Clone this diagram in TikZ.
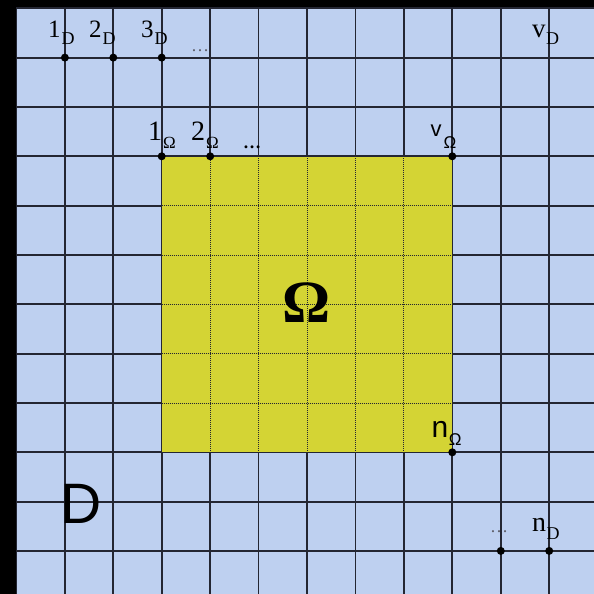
\documentclass[tikz,border=0pt]{standalone}
\usepackage{fontspec}
\setmainfont{Liberation Serif}
\newfontfamily\sansf{Liberation Sans}
\definecolor{bgblue}{RGB}{190,208,240}
\definecolor{omyellow}{RGB}{212,212,52}
\definecolor{gridc}{RGB}{36,38,50}
\definecolor{dotsgray}{RGB}{95,95,105}
\newcommand\fs[1]{\fontsize{#1}{#1}\selectfont}
\begin{document}
\begin{tikzpicture}[x=1pt,y=-1pt,
  gridline/.style={draw=gridc,line width=1.8pt},
  innerline/.style={draw=gridc,line width=0.8pt,dash pattern=on 1pt off 1pt},
  pt/.style={circle,fill=black,inner sep=0pt,minimum size=8pt},
  lab/.style={anchor=base west,inner sep=0pt,text=black},
  ell/.style={anchor=base west,inner sep=0pt,text=dotsgray}]
\useasboundingbox (0,0) rectangle (594,594);
% background
\fill[bgblue] (0,0) rectangle (594,594);
% grid
\foreach \i in {0,...,12} {
  \draw[gridline] ({16.4+48.43*\i},0) -- ({16.4+48.43*\i},594);
}
\foreach \j in {0,...,12} {
  \draw[gridline] (0,{8.3+49.33*\j}) -- (594,{8.3+49.33*\j});
}
% Omega region
\fill[omyellow] (161.7,156.3) rectangle (452.3,452.3);
\foreach \i in {4,...,8} {
  \draw[innerline] ({16.4+48.43*\i},156.3) -- ({16.4+48.43*\i},452.3);
}
\foreach \j in {4,...,8} {
  \draw[innerline] (161.7,{8.3+49.33*\j}) -- (452.3,{8.3+49.33*\j});
}
\draw[innerline] (161.7,156.3) rectangle (452.3,452.3);
\draw[gridc,line width=1.2pt] (161.7,156.3) rectangle (452.3,452.3);
% black frame
\fill[black] (0,0) rectangle (594,7.5);
\fill[black] (0,0) rectangle (16.4,594);
% points
\node[pt] (p1D) at (64.9,57.6) {};
\node[pt] (p2D) at (113.3,57.6) {};
\node[pt] (p3D) at (161.7,57.6) {};
\node[pt] (p1O) at (161.7,156.3) {};
\node[pt] (p2O) at (210.2,156.3) {};
\node[pt] (pvO) at (452.3,156.3) {};
\node[pt] (pnO) at (452.3,452.3) {};
\node[pt] (pkD) at (500.8,550.9) {};
\node[pt] (pnD) at (549.2,550.9) {};
% labels
\node[lab] (l1D) at (48,37.3) {\fs{25}1\kern1pt\lower7.7pt\hbox{\fs{18}D}};
\node[lab] (l2D) at (89,37.3) {\fs{25}2\kern1pt\lower7.7pt\hbox{\fs{18}D}};
\node[lab] (l3D) at (141,37.3) {\fs{25}3\kern1pt\lower7.7pt\hbox{\fs{18}D}};
\node[ell] (e1) at (191,52) {\fs{18}\ldots};
\node[lab] (l1O) at (148,140.7) {\fs{28}1\kern1pt\lower7.6pt\hbox{\fs{17}Ω}};
\node[lab] (l2O) at (191,140.7) {\fs{28}2\kern1pt\lower7.6pt\hbox{\fs{17}Ω}};
\node[lab] (e2) at (243,148) {\fs{18}\textbf{\ldots}};
\node[lab] (lvO) at (430.5,136.7) {\sansf\fs{22}v\kern2pt\lower11.6pt\hbox{\fs{17}Ω}};
\node[lab] (lvD) at (532,37.3) {\fs{27}v\kern0.5pt\lower7.7pt\hbox{\fs{18}D}};
\node[lab] (lnO) at (431.5,437.3) {\sansf\fs{30}n\kern0.5pt\lower7.7pt\hbox{\fs{17}Ω}};
\node[lab] (lnD) at (532,531.7) {\fs{28}n\kern0.5pt\lower7.6pt\hbox{\fs{18}D}};
\node[ell] (e3) at (490,532) {\fs{18}\ldots};
\node[lab] (lD) at (60.6,523.3) {\sansf\fs{57}D};
\node[anchor=base,inner sep=0pt] (lOm) at (306.7,322.3) {\fs{60}\textbf{Ω}};
\end{tikzpicture}
\end{document}
